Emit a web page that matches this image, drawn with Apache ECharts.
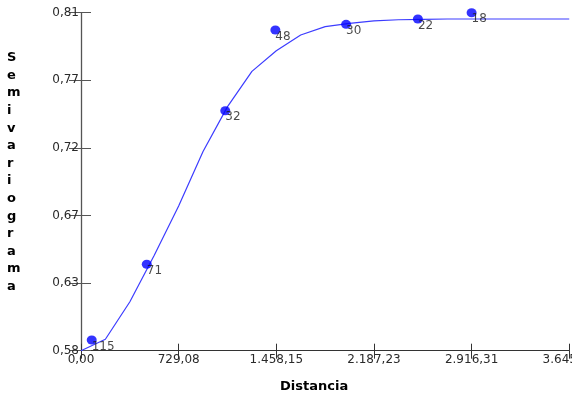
<!DOCTYPE html>
<html>
<head>
<meta charset="utf-8">
<script src="https://cdn.jsdelivr.net/npm/echarts@6/dist/echarts.min.js"></script>
<style>
  html, body { margin: 0; padding: 0; background: #fff; }
  #chart { width: 572px; height: 397px; }
</style>
</head>
<body>
<div id="chart"></div>
<script>
// Empirical semivariogram: lag distance, semivariance and number of pairs per lag
const lagDistance = [80, 491, 1077, 1451, 1979, 2515, 2916];
const semivariance = [0.5898, 0.6413, 0.7458, 0.8007, 0.8046, 0.8082, 0.8125];
const pairCount = [115, 71, 32, 48, 30, 22, 18];

// Fitted model curve
const modelDistance = [0, 182, 365, 547, 729, 911, 1094, 1276, 1458, 1640, 1823,
  2005, 2187, 2370, 2552, 2734, 2916, 3099, 3281, 3463, 3645];
const modelValue = [0.5825, 0.5903, 0.6158, 0.6474, 0.6810, 0.7180, 0.7486, 0.7726,
  0.7866, 0.7973, 0.8030, 0.8052, 0.8070, 0.8077, 0.8080, 0.8082, 0.8082, 0.8082,
  0.8082, 0.8082, 0.8082];

// Axis ticks
const xTickLabels = ['0,00', '729,08', '1.458,15', '2.187,23', '2.916,31', '3.645,39'];
const yTickLabels = ['0,58', '0,63', '0,67', '0,72', '0,77', '0,81'];
const xMin = 0, xStep = 729.077, xMax = xMin + 5 * xStep;
const yMin = 0.5825, yStep = 0.046, yMax = yMin + 5 * yStep;

const yTitle = 'Semivariograma';
const xTitle = 'Distancia';

const FONT = '"DejaVu Sans", Verdana, sans-serif';

const chart = echarts.init(document.getElementById('chart'), null, { renderer: 'canvas' });

const baseX = {
  type: 'value', min: xMin, max: xMax, interval: xStep,
  splitLine: { show: false }
};
const baseY = {
  type: 'value', min: yMin, max: yMax, interval: yStep,
  splitLine: { show: false }
};

chart.setOption({
  animation: false,
  backgroundColor: '#ffffff',
  grid: {
    left: 81, right: 2.7, top: 12.7, bottom: 46.3,
    containLabel: false, outerBoundsMode: 'none'
  },
  xAxis: [
    Object.assign({}, baseX, {
      position: 'bottom',
      axisLine: { show: true, onZero: false, lineStyle: { color: '#333', width: 1 } },
      axisTick: { show: true, length: 8, lineStyle: { color: '#333', width: 1 } },
      axisLabel: {
        show: true, margin: 3, color: '#2a2a2a', fontFamily: FONT, fontSize: 12,
        showMinLabel: true, showMaxLabel: true, hideOverlap: false,
        formatter: (v, i) => xTickLabels[i] !== undefined ? xTickLabels[i] : ''
      }
    }),
    Object.assign({}, baseX, {
      position: 'bottom',
      axisLine: { show: false },
      axisTick: { show: true, inside: true, length: 7, lineStyle: { color: '#333', width: 1 } },
      axisLabel: { show: false }
    })
  ],
  yAxis: [
    Object.assign({}, baseY, {
      position: 'left',
      axisLine: { show: true, onZero: false, lineStyle: { color: '#555', width: 1.3 } },
      axisTick: { show: true, length: 12, lineStyle: { color: '#555', width: 1 } },
      axisLabel: {
        show: true, margin: 2, color: '#2a2a2a', fontFamily: FONT, fontSize: 12,
        showMinLabel: true, showMaxLabel: true,
        formatter: (v, i) => yTickLabels[i] !== undefined ? yTickLabels[i] : ''
      }
    }),
    Object.assign({}, baseY, {
      position: 'left',
      axisLine: { show: false },
      axisTick: { show: true, inside: true, length: 10, lineStyle: { color: '#555', width: 1 } },
      axisLabel: { show: false }
    })
  ],
  graphic: [
    {
      type: 'text', left: 7, top: 49, silent: true,
      style: {
        text: yTitle.split('').join('\n'),
        font: 'bold 13px ' + FONT, fill: '#000', lineHeight: 17.6, align: 'center'
      }
    },
    {
      type: 'text', left: 280, top: 380, silent: true,
      style: { text: xTitle, font: 'bold 13px ' + FONT, fill: '#000' }
    }
  ],
  series: [
    {
      type: 'line', name: 'modelo', xAxisIndex: 0, yAxisIndex: 0,
      data: modelDistance.map((d, i) => [d, modelValue[i]]),
      showSymbol: false, smooth: false, clip: false,
      lineStyle: { color: '#3c3cff', width: 1.2 },
      z: 2
    },
    {
      type: 'scatter', name: 'empírico', xAxisIndex: 0, yAxisIndex: 0,
      data: lagDistance.map((d, i) => [d, semivariance[i], pairCount[i]]),
      symbol: 'circle', symbolSize: [10, 9], clip: false,
      itemStyle: { color: '#0000ff' },
      label: {
        show: true, position: [5, 5],
        formatter: p => String(p.value[2]),
        color: '#1a1a1a', fontFamily: FONT, fontSize: 12
      },
      z: 3
    }
  ]
});
</script>
</body>
</html>
